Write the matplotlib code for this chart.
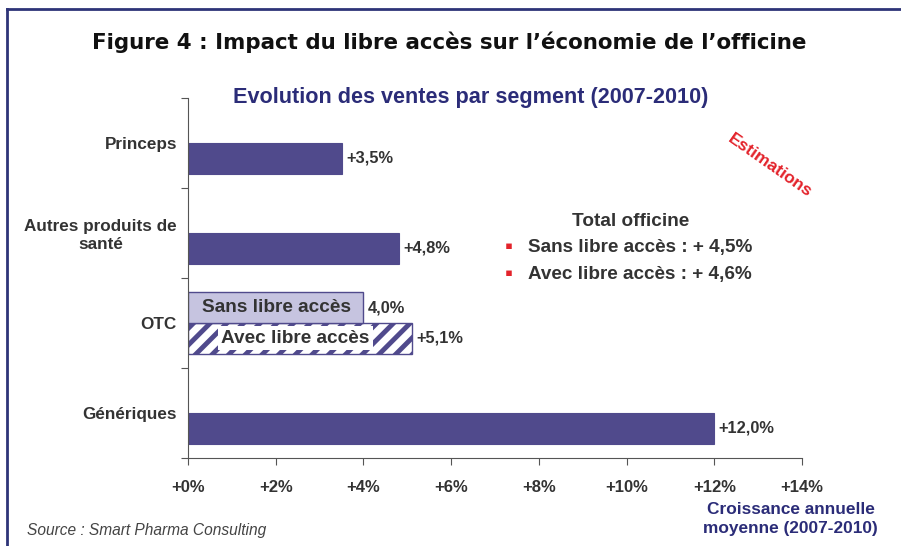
import matplotlib
matplotlib.use("Agg")
import matplotlib.pyplot as plt
from matplotlib.lines import Line2D
import numpy as np

plt.rcParams['font.family'] = ['Liberation Sans', 'DejaVu Sans']
plt.rcParams['hatch.linewidth'] = 3.5

categories = ["Princeps", "Autres produits de\nsanté", "OTC", "Génériques"]
sans_values = [None, None, 4.0, None]
avec_values = [3.5, 4.8, 5.1, 12.0]
avec_labels = ["+3,5%", "+4,8%", "+5,1%", "+12,0%"]
sans_labels = [None, None, "4,0%", None]
xticks = [0, 2, 4, 6, 8, 10, 12, 14]
xtick_labels = ["+0%", "+2%", "+4%", "+6%", "+8%", "+10%", "+12%", "+14%"]
total_lines = ["Sans libre accès : + 4,5%", "Avec libre accès : + 4,6%"]

bar_color = '#504a8c'
light_color = '#c6c4e0'
text_grey = '#333333'
navy = '#2b2c78'

fig = plt.figure(figsize=(9.01, 5.46), dpi=100)
ax = fig.add_axes([188 / 901, 1 - 458 / 546, 614 / 901, 360 / 546])

y = np.arange(len(categories))
off = 0.17
h = 0.345

for i, v in enumerate(avec_values):
    if i == 2:
        # hatched bar for the OTC "avec libre acces" case
        ax.barh(y[i] + off, v, height=h, color='white', edgecolor=bar_color,
                hatch='//', linewidth=1)
        ax.text(2.45, y[i] + off, "Avec libre accès", ha='center', va='center',
                fontsize=13.7, fontweight='bold', color=text_grey,
                bbox=dict(facecolor='white', edgecolor='none', pad=2.5))
    else:
        ax.barh(y[i] + off, v, height=h, color=bar_color, edgecolor=bar_color, linewidth=0.8)
    ax.text(v + 0.1, y[i] + off, avec_labels[i], ha='left', va='center',
            fontsize=11.8, fontweight='bold', color=text_grey)

for i, v in enumerate(sans_values):
    if v is None:
        continue
    ax.barh(y[i] - off, v, height=h, color=light_color, edgecolor=bar_color, linewidth=1)
    ax.text(v / 2 + 0.02, y[i] - off, "Sans libre accès", ha='center', va='center',
            fontsize=13.7, fontweight='bold', color=text_grey)
    ax.text(v + 0.1, y[i] - off, sans_labels[i], ha='left', va='center',
            fontsize=11.8, fontweight='bold', color=text_grey)

ax.set_xlim(0, 14)
ax.set_ylim(3.5, -0.5)
ax.set_xticks(xticks)
ax.set_xticklabels(xtick_labels, fontsize=12, fontweight='bold', color=text_grey)
ax.set_yticks(np.arange(-0.5, 4, 1))
ax.set_yticklabels([])
ax.set_yticks(y, minor=True)
ax.set_yticklabels(categories, minor=True, fontsize=12.3, fontweight='bold',
                   color=text_grey, multialignment='center')
ax.tick_params(axis='y', which='minor', length=0, pad=8)
ax.tick_params(axis='y', which='major', length=5, direction='out', color='#555555')
ax.tick_params(axis='x', length=5, direction='out', pad=11, color='#555555')
for s in ['top', 'right']:
    ax.spines[s].set_visible(False)
ax.spines['left'].set_color('#555555')
ax.spines['bottom'].set_color('#555555')

# titles and notes
fig.text(449 / 901, 1 - 42 / 546, "Figure 4 : Impact du libre accès sur l\u2019économie de l\u2019officine",
         ha='center', va='center', fontsize=15.4, fontweight='bold', color='#111111',
         family='DejaVu Sans')
fig.text(471 / 901, 1 - 97 / 546, "Evolution des ventes par segment (2007-2010)",
         ha='center', va='center', fontsize=15.6, fontweight='bold', color=navy)
fig.text(770 / 901, 1 - 166 / 546, "Estimations", ha='center', va='center', rotation=-35,
         fontsize=12.5, fontweight='bold', color='#e3232b')
fig.text(631 / 901, 1 - 221 / 546, "Total officine", ha='center', va='center',
         fontsize=13.7, fontweight='bold', color=text_grey)
for k, line in enumerate(total_lines):
    yy = 1 - (248 + 27 * k) / 546
    fig.text(509 / 901, yy, "\u25aa", ha='center', va='center', fontsize=16, color='#e3232b')
    fig.text(528 / 901, yy, line, ha='left', va='center',
             fontsize=13.6, fontweight='bold', color=text_grey)
fig.text(878 / 901, 1 - 519 / 546, "Croissance annuelle\nmoyenne (2007-2010)", ha='right', va='center',
         fontsize=12.4, fontweight='bold', color=navy, multialignment='center', linespacing=1.4)
fig.text(27 / 901, 1 - 531 / 546, "Source : Smart Pharma Consulting", ha='left', va='center',
         fontsize=11.2, style='italic', color='#444444')

# frame around the figure
fig.add_artist(Line2D([7 / 901, 7 / 901], [0, 1 - 9 / 546], color='#2e3478', lw=2))
fig.add_artist(Line2D([7 / 901, 1], [1 - 9 / 546, 1 - 9 / 546], color='#2e3478', lw=2))

fig.savefig("out.png", dpi=100)
